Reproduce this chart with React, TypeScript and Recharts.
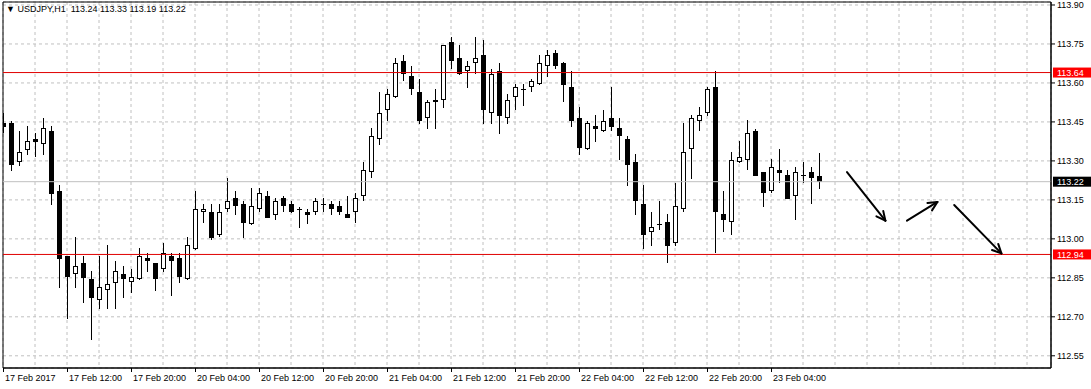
import { Bar, CartesianGrid, ComposedChart, ReferenceArea, ReferenceLine, XAxis, YAxis } from "recharts"

// USDJPY H1, one value per hourly bar (weekend gap skipped)
const opens = [
  113.446, 113.445, 113.294, 113.343, 113.384, 113.364, 113.415, 113.184, 112.933, 112.863,
  112.906, 112.845, 112.763, 112.802, 112.831, 112.865, 112.833, 112.844, 112.926, 112.906,
  112.883, 112.934, 112.926, 112.844, 112.962, 113.102, 113.103, 113.013, 113.114, 113.156,
  113.134, 113.056, 113.114, 113.164, 113.093, 113.156, 113.134, 113.114, 113.103, 113.102,
  113.134, 113.134, 113.125, 113.094, 113.102, 113.164, 113.256, 113.383, 113.495, 113.545,
  113.684, 113.627, 113.565, 113.464, 113.534, 113.533, 113.756, 113.695, 113.645, 113.675,
  113.708, 113.483, 113.645, 113.464, 113.545, 113.575, 113.583, 113.595, 113.664, 113.717,
  113.677, 113.583, 113.465, 113.344, 113.434, 113.414, 113.465, 113.427, 113.383, 113.296,
  113.134, 113.025, 113.056, 113.065, 112.983, 113.114, 113.344, 113.455, 113.483, 113.584,
  113.094, 113.063, 113.294, 113.305, 113.414, 113.256, 113.183, 113.265, 113.244, 113.164,
  113.244, 113.256, 113.24,
]
const highs = [
  113.483, 113.455, 113.415, 113.434, 113.406, 113.466, 113.434, 113.207, 112.935, 113.006,
  112.934, 112.876, 112.934, 112.976, 112.915, 112.895, 112.885, 112.965, 112.944, 112.908,
  112.985, 112.944, 112.944, 113.007, 113.184, 113.134, 113.134, 113.134, 113.233, 113.184,
  113.144, 113.196, 113.196, 113.184, 113.156, 113.164, 113.144, 113.124, 113.114, 113.156,
  113.156, 113.144, 113.144, 113.164, 113.175, 113.296, 113.427, 113.565, 113.578, 113.695,
  113.708, 113.665, 113.615, 113.536, 113.577, 113.747, 113.777, 113.747, 113.684, 113.777,
  113.765, 113.655, 113.677, 113.556, 113.596, 113.596, 113.615, 113.708, 113.727, 113.727,
  113.679, 113.645, 113.507, 113.455, 113.475, 113.495, 113.584, 113.465, 113.394, 113.325,
  113.207, 113.103, 113.144, 113.094, 113.216, 113.445, 113.475, 113.506, 113.584, 113.645,
  113.184, 113.333, 113.375, 113.456, 113.424, 113.258, 113.306, 113.346, 113.265, 113.275,
  113.296, 113.275, 113.33,
]
const lows = [
  113.406, 113.262, 113.282, 113.324, 113.314, 113.324, 113.131, 112.812, 112.693, 112.812,
  112.754, 112.611, 112.729, 112.731, 112.731, 112.773, 112.793, 112.841, 112.874, 112.800,
  112.874, 112.781, 112.831, 112.841, 112.957, 113.062, 112.994, 113.006, 113.102, 113.093,
  113.004, 113.053, 113.102, 113.079, 113.072, 113.102, 113.098, 113.043, 113.056, 113.093,
  113.102, 113.093, 113.093, 113.081, 113.062, 113.144, 113.233, 113.362, 113.455, 113.542,
  113.606, 113.555, 113.443, 113.424, 113.424, 113.505, 113.655, 113.631, 113.582, 113.633,
  113.443, 113.443, 113.405, 113.443, 113.495, 113.513, 113.565, 113.592, 113.624, 113.655,
  113.525, 113.432, 113.323, 113.342, 113.373, 113.411, 113.414, 113.303, 113.205, 113.093,
  112.962, 112.974, 113.034, 112.906, 112.974, 113.102, 113.232, 113.414, 113.474, 112.944,
  113.025, 113.013, 113.292, 113.264, 113.241, 113.124, 113.175, 113.214, 113.152, 113.074,
  113.214, 113.133, 113.19,
]
const closes = [
  113.432, 113.283, 113.333, 113.375, 113.374, 113.425, 113.174, 112.924, 112.852, 112.894,
  112.850, 112.773, 112.815, 112.825, 112.875, 112.844, 112.853, 112.933, 112.913, 112.844,
  112.944, 112.913, 112.852, 112.975, 113.114, 113.114, 113.004, 113.103, 113.144, 113.125,
  113.062, 113.125, 113.175, 113.081, 113.144, 113.125, 113.102, 113.113, 113.093, 113.144,
  113.133, 113.114, 113.102, 113.081, 113.156, 113.264, 113.394, 113.483, 113.556, 113.677,
  113.633, 113.575, 113.455, 113.525, 113.525, 113.745, 113.683, 113.633, 113.664, 113.695,
  113.495, 113.634, 113.474, 113.534, 113.583, 113.576, 113.607, 113.677, 113.706, 113.665,
  113.593, 113.455, 113.351, 113.445, 113.424, 113.455, 113.432, 113.394, 113.283, 113.144,
  113.013, 113.044, 113.055, 112.974, 113.125, 113.333, 113.465, 113.475, 113.575, 113.102,
  113.074, 113.305, 113.314, 113.406, 113.243, 113.175, 113.275, 113.255, 113.155, 113.256,
  113.245, 113.233, 113.22,
]

const timeTicks = [0, 8, 16, 24, 32, 40, 48, 56, 64, 72, 80, 88, 96]
const timeLabels = [
  "17 Feb 2017", "17 Feb 12:00", "17 Feb 20:00", "20 Feb 04:00", "20 Feb 12:00",
  "20 Feb 20:00", "21 Feb 04:00", "21 Feb 12:00", "21 Feb 20:00", "22 Feb 04:00",
  "22 Feb 12:00", "22 Feb 20:00", "23 Feb 04:00",
]
const priceTicks = [112.55, 112.7, 112.85, 113.0, 113.15, 113.3, 113.45, 113.6, 113.75, 113.9]

const resistance = 113.64
const support = 112.94
const bid = 113.22

// hand drawn arrows: [x1, y1, x2, y2] in bar index / price
const arrows = [
  [105.5, 113.257, 110.3, 113.07],
  [113.0, 113.07, 116.8, 113.142],
  [118.9, 113.13, 124.8, 112.944],
]

const data = opens.map((open, i) => ({ i, open, high: highs[i], low: lows[i], close: closes[i] }))

const FONT = "'Liberation Sans', Arial, sans-serif"

function Candle(props: any) {
  const { x, y, width, height, payload } = props
  const { open, close, high, low } = payload
  const top = Math.min(y, y + height)
  const h = Math.abs(height)
  const range = high - low
  const py = (v: number) => (range === 0 ? top : top + ((high - v) / range) * h)
  const cx = Math.round(x + width / 2) + 0.5
  const bTop = Math.round(py(Math.max(open, close)))
  const bBot = Math.round(py(Math.min(open, close)))
  const up = close > open
  return (
    <g>
      <line x1={cx} x2={cx} y1={Math.round(top)} y2={Math.round(top + h)} stroke="#000" strokeWidth={1} />
      {bBot - bTop < 1 ? (
        <line x1={cx - 2.5} x2={cx + 2.5} y1={bTop + 0.5} y2={bTop + 0.5} stroke="#000" strokeWidth={1} />
      ) : up ? (
        <rect x={cx - 2} y={bTop + 0.5} width={4} height={Math.max(bBot - bTop - 1, 1)} fill="#fff" stroke="#000" strokeWidth={1} />
      ) : (
        <rect x={cx - 2.5} y={bTop} width={5} height={bBot - bTop} fill="#000" />
      )}
    </g>
  )
}

function TimeTick({ x, y, payload }: any) {
  const k = timeTicks.indexOf(payload.value)
  if (k < 0) return null
  return (
    <g>
      <line x1={x + 0.5} x2={x + 0.5} y1={y} y2={y + 4} stroke="#000" />
      <text x={x + 2} y={y + 13} fontSize={9} fontFamily={FONT} fill="#000">
        {timeLabels[k]}
      </text>
    </g>
  )
}

function PriceTick({ x, y, payload }: any) {
  return (
    <g>
      <line x1={x} x2={x + 4} y1={y} y2={y} stroke="#000" />
      <text x={x + 6} y={y + 3} fontSize={9} fontFamily={FONT} fill="#000">
        {payload.value.toFixed(2)}
      </text>
    </g>
  )
}

function PriceTag({ viewBox, text, bg }: any) {
  const x = viewBox.x + viewBox.width + 2
  const y = viewBox.y
  return (
    <g>
      <rect x={x} y={y - 5} width={40} height={10} fill={bg} />
      <text x={x + 4} y={y + 3.5} fontSize={9} fontFamily={FONT} fill="#fff">
        {text}
      </text>
    </g>
  )
}

function Arrow(props: any) {
  const { x1, y1, x2, y2 } = props
  const a = Math.atan2(y2 - y1, x2 - x1)
  const len = 10
  const s = 0.45
  return (
    <g stroke="#000" strokeWidth={2} fill="none" strokeLinecap="round">
      <line x1={x1} y1={y1} x2={x2} y2={y2} />
      <line x1={x2} y1={y2} x2={x2 - len * Math.cos(a - s)} y2={y2 - len * Math.sin(a - s)} />
      <line x1={x2} y1={y2} x2={x2 - len * Math.cos(a + s)} y2={y2 - len * Math.sin(a + s)} />
    </g>
  )
}

export default function App() {
  const xDomain: [number, number] = [0, 131]
  const yDomain: [number, number] = [112.503, 113.9115]
  return (
    <div style={{ position: "absolute", left: 0, top: 0, width: 1091, height: 389, background: "#fff" }}>
      <ComposedChart
        width={1091}
        height={389}
        data={data}
        margin={{ top: 2, right: 0, bottom: 1, left: 3 }}
        style={{ fontFamily: FONT }}
      >
        <CartesianGrid stroke="#c0c0c0" strokeDasharray="3 3" />
        <XAxis
          dataKey="i"
          type="number"
          domain={xDomain}
          allowDataOverflow
          ticks={Array.from({ length: 33 }, (_, k) => k * 4)}
          interval={0}
          height={20}
          tickSize={0}
          tickMargin={0}
          tick={<TimeTick />}
          axisLine={{ stroke: "#000" }}
        />
        <YAxis
          orientation="right"
          type="number"
          domain={yDomain}
          allowDataOverflow
          ticks={priceTicks}
          interval={0}
          width={40}
          tickSize={0}
          tickMargin={0}
          tick={<PriceTick />}
          axisLine={{ stroke: "#000" }}
        />
        <ReferenceArea x1={xDomain[0]} x2={xDomain[1]} y1={yDomain[0]} y2={yDomain[1]} fill="none" stroke="#000" fillOpacity={0} />
        <ReferenceLine y={bid} stroke="#c0c0c0" label={<PriceTag text={bid.toFixed(2)} bg="#000" />} />
        <ReferenceLine y={resistance} stroke="#e00000" label={<PriceTag text={resistance.toFixed(2)} bg="#ff0000" />} />
        <ReferenceLine y={support} stroke="#e00000" label={<PriceTag text={support.toFixed(2)} bg="#ff0000" />} />
        <Bar
          dataKey={(d: any) => [d.low, d.high]}
          barSize={5}
          shape={<Candle />}
          isAnimationActive={false}
        />
        {arrows.map(([ax1, ay1, ax2, ay2], k) => (
          <ReferenceLine
            key={k}
            segment={[{ x: ax1, y: ay1 }, { x: ax2, y: ay2 }]}
            shape={(p: any) => <Arrow {...p} />}
          />
        ))}
      </ComposedChart>
      <div
        style={{
          position: "absolute",
          left: 6,
          top: 4,
          fontFamily: FONT,
          fontSize: 9,
          lineHeight: "11px",
          whiteSpace: "pre",
          color: "#000",
        }}
      >
        {"▼ USDJPY,H1  113.24 113.33 113.19 113.22"}
      </div>
    </div>
  )
}
